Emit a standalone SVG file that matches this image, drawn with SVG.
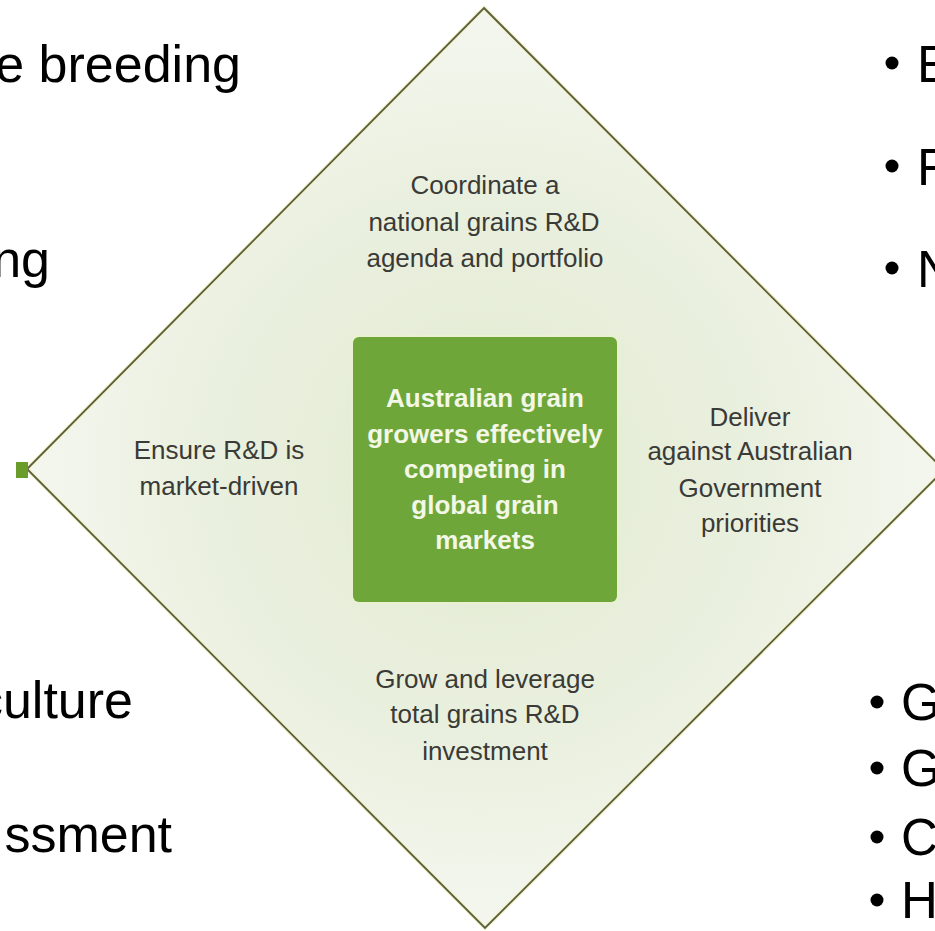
<svg xmlns="http://www.w3.org/2000/svg" width="935" height="931" viewBox="0 0 935 931">
  <defs>
    <radialGradient id="dfill" cx="485" cy="468" r="470" gradientUnits="userSpaceOnUse">
      <stop offset="0" stop-color="#e2ead0"/>
      <stop offset="0.6" stop-color="#eaf0df"/>
      <stop offset="1" stop-color="#f5f7f0"/>
    </radialGradient>
  </defs>
  <style>
    .lbl { font-family: "Liberation Sans", Arial, Helvetica, sans-serif; font-size: 26px; fill: #3a3a36; text-anchor: middle; }
    .core { font-family: "Liberation Sans", Arial, Helvetica, sans-serif; font-size: 26px; font-weight: bold; fill: #f3f7e6; text-anchor: middle; }
    .big { font-family: "Liberation Sans", Arial, Helvetica, sans-serif; font-size: 52px; fill: #000; }
    .bul { font-family: "Liberation Sans", Arial, Helvetica, sans-serif; font-size: 51px; fill: #000; }
  </style>
  <rect width="935" height="931" fill="#ffffff"/>

  <g id="diamond">
    <polygon points="484,8 944,470 485,928 27,469" fill="url(#dfill)" stroke="#f2f2c8" stroke-width="4"/>
    <polygon points="484,8 944,470 485,928 27,469" fill="none" stroke="#5b5e3e" stroke-width="1.8"/>
  </g>

  <g id="connectors">
    <rect x="16" y="462" width="12" height="16" fill="#6a9c2c"/>
  </g>

  <g id="node-center">
    <rect x="351" y="335" width="268" height="269" rx="7" fill="#e9f1d2"/>
    <rect x="353" y="337" width="264" height="265" rx="6" fill="#6fa63a"/>
    <text class="core" x="485" y="407">Australian grain</text>
    <text class="core" x="485" y="443">growers effectively</text>
    <text class="core" x="485" y="478">competing in</text>
    <text class="core" x="485" y="514">global grain</text>
    <text class="core" x="485" y="549">markets</text>
  </g>

  <g id="node-top">
    <text class="lbl" x="485" y="194">Coordinate a</text>
    <text class="lbl" x="484" y="231">national grains R&amp;D</text>
    <text class="lbl" x="485" y="267">agenda and portfolio</text>
  </g>

  <g id="node-left">
    <text class="lbl" x="219" y="459">Ensure R&amp;D is</text>
    <text class="lbl" x="219" y="495">market-driven</text>
  </g>

  <g id="node-right">
    <text class="lbl" x="750" y="426">Deliver</text>
    <text class="lbl" x="750" y="460">against Australian</text>
    <text class="lbl" x="750" y="497">Government</text>
    <text class="lbl" x="750" y="532">priorities</text>
  </g>

  <g id="node-bottom">
    <text class="lbl" x="485" y="688">Grow and leverage</text>
    <text class="lbl" x="485" y="723">total grains R&amp;D</text>
    <text class="lbl" x="485" y="760">investment</text>
  </g>

  <g id="left-text">
    <text class="big" x="241" y="82" text-anchor="end">e breeding</text>
    <text class="big" x="50" y="277" text-anchor="end">ng</text>
    <text class="big" x="133" y="718" text-anchor="end">culture</text>
    <text class="big" x="172" y="852" text-anchor="end">ssment</text>
  </g>

  <g id="right-top-bullets">
    <circle cx="892" cy="63" r="6.5" fill="#000"/>
    <text class="bul" x="917" y="82">E</text>
    <circle cx="892" cy="166" r="6.5" fill="#000"/>
    <text class="bul" x="917" y="185">F</text>
    <circle cx="892" cy="268" r="6.5" fill="#000"/>
    <text class="bul" x="917" y="287">N</text>
  </g>

  <g id="right-bottom-bullets">
    <circle cx="877" cy="702" r="6.5" fill="#000"/>
    <text class="bul" x="901" y="720">G</text>
    <circle cx="877" cy="768" r="6.5" fill="#000"/>
    <text class="bul" x="901" y="786">G</text>
    <circle cx="877" cy="837" r="6.5" fill="#000"/>
    <text class="bul" x="901" y="855">C</text>
    <circle cx="877" cy="900" r="6.5" fill="#000"/>
    <text class="bul" x="901" y="918">H</text>
  </g>
</svg>
